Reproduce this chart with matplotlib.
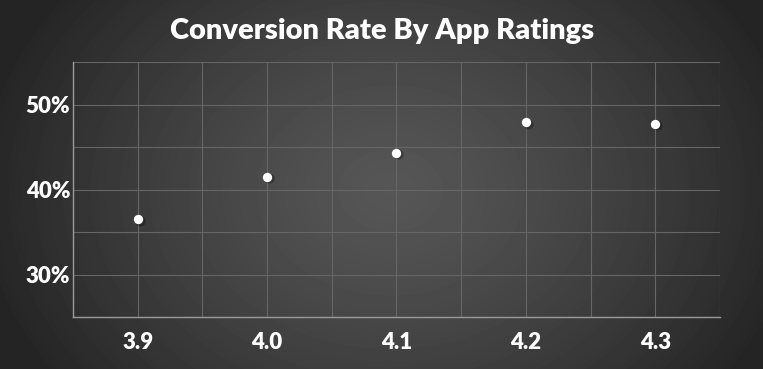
import matplotlib
matplotlib.use("Agg")
import matplotlib.pyplot as plt
import numpy as np

ratings = [3.9, 4.0, 4.1, 4.2, 4.3]
conversion = [36.5, 41.5, 44.3, 47.9, 47.7]
x_ticks = [3.9, 4.0, 4.1, 4.2, 4.3]
x_labels = ["3.9", "4.0", "4.1", "4.2", "4.3"]
y_ticks = [30, 40, 50]
y_labels = ["30%", "40%", "50%"]

plt.rcParams['font.family'] = ['Lato', 'DejaVu Sans']

fig = plt.figure(figsize=(7.63, 3.69), dpi=100)

# radial gradient background
bg = fig.add_axes([0, 0, 1, 1], zorder=-10)
h, w = 369, 763
yy, xx = np.mgrid[0:h, 0:w]
cx, cy = 390, 190
r = np.sqrt(((xx - cx) / 420.0) ** 2 + ((yy - cy) / 330.0) ** 2)
r = np.clip(r, 0, 1)
lo, hi = 0x24 / 255, 0x56 / 255
img = hi - (hi - lo) * r ** 1.3
bg.imshow(img, cmap='gray', vmin=0, vmax=1, aspect='auto', interpolation='bilinear')
bg.axis('off')

ax = fig.add_axes([73 / w, 1 - 317 / h, (720 - 73) / w, (317 - 62) / h])
ax.patch.set_alpha(0)

# shadow then dots
ax.scatter(np.array(ratings) + 0.0015, np.array(conversion) - 0.15, s=55, color='black',
           alpha=0.3, zorder=3, linewidths=0)
ax.scatter(ratings, conversion, s=45, color='white', zorder=4, linewidths=0)

ax.set_xlim(3.85, 4.35)
ax.set_ylim(25, 55)
ax.set_xticks(np.arange(3.85, 4.36, 0.05), minor=True)
ax.set_yticks(np.arange(25, 56, 5), minor=True)
ax.set_xticks(x_ticks)
ax.set_xticklabels(x_labels)
ax.set_yticks(y_ticks)
ax.set_yticklabels(y_labels)
ax.grid(True, which='both', color='#666666', linewidth=0.8)
ax.tick_params(which='both', length=0)
ax.tick_params(axis='x', colors='white', labelsize=16, pad=11)
ax.tick_params(axis='y', colors='white', labelsize=16, pad=2)
for lab in ax.get_xticklabels() + ax.get_yticklabels():
    lab.set_fontweight('heavy')
for s in ['top', 'right']:
    ax.spines[s].set_visible(False)
for s in ['left', 'bottom']:
    ax.spines[s].set_color('#9a9a9a')
    ax.spines[s].set_linewidth(1)

fig.text(382 / w, 1 - 31 / h, "Conversion Rate By App Ratings", color='white',
         fontsize=21, fontweight='heavy', ha='center', va='center')

fig.savefig("out.png", dpi=100)
